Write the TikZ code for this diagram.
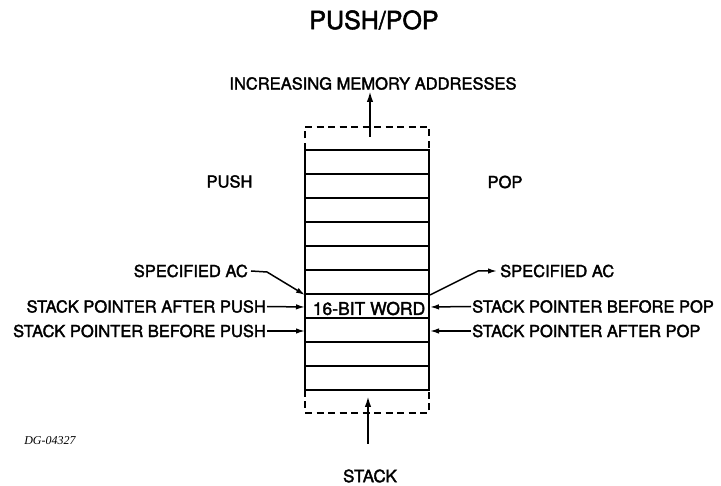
\documentclass[tikz,border=0pt]{standalone}
\usepackage{fontspec}
\setmainfont{TeX Gyre Heros}[FakeBold=2]
\newfontfamily\serifit{Liberation Serif}
\usetikzlibrary{arrows.meta}
\begin{document}
\begin{tikzpicture}[x=1pt,y=-1pt,
  lbl/.style={font=\fontsize{16.5}{18}\selectfont, inner sep=0pt},
  boxline/.style={line width=1.8pt},
  dashline/.style={line width=1.8pt, dash pattern=on 7pt off 4.5pt},
  arr/.style={line width=1.5pt, -{Latex[length=9pt,width=5.5pt]}},
  arrbig/.style={line width=2pt, -{Latex[length=11pt,width=6.5pt]}}]
\useasboundingbox (0,0) rectangle (721,486);
% title
\node[lbl, font=\fontsize{25}{28}\selectfont] (title) at (374,20) {PUSH/POP};
\node[lbl] (inc) at (373,83.5) {INCREASING MEMORY ADDRESSES};
\node[lbl] (push) at (229.5,181.5) {PUSH};
\node[lbl] (pop) at (505,182) {POP};
\node[lbl, font=\fontsize{17}{19}\selectfont] (stack) at (370,476) {STACK};
\node[inner sep=0pt, font=\serifit\itshape\fontsize{12}{14}\selectfont] (dg) at (50,441) {DG-04327};
% stack box
\coordinate (tl) at (305,150);
\coordinate (br) at (429,390);
\draw[boxline] (tl) rectangle (br);
\foreach \y in {174,198,222,246,270,294,318,342,366}
  \draw[boxline] (305,\y) -- (429,\y);
\draw[dashline] (305,150) -- (305,127) -- (429,127) -- (429,150);
\draw[dashline] (305,390) -- (305,413) -- (429,413) -- (429,390);
\node[lbl, font=\fontsize{17.5}{20}\selectfont] (word) at (369,308.5) {16-BIT WORD};
% vertical arrows
\coordinate (topstart) at (370,137);
\coordinate (topend) at (370,91);
\draw[arrbig] (topstart) -- (topend);
\coordinate (botstart) at (368,444);
\coordinate (botend) at (368,396);
\draw[arrbig] (botstart) -- (botend);
% left labels
\node[lbl, anchor=east] (sacl) at (248,271) {SPECIFIED AC};
\node[lbl, anchor=east] (spap) at (266,306.5) {STACK POINTER AFTER PUSH};
\node[lbl, anchor=east] (spbp) at (266,331) {STACK POINTER BEFORE PUSH};
\coordinate (lc) at (305,295);
\draw[arr] ([xshift=3pt]sacl.east) -- (267,272) -- (lc);
\draw[arr] ([xshift=1pt]spap.east) -- (305,307);
\draw[arr] ([xshift=1pt]spbp.east) -- (305,331);
% right labels
\node[lbl, anchor=west] (sacr) at (500,271) {SPECIFIED AC};
\node[lbl, anchor=west] (spbo) at (472,306.5) {STACK POINTER BEFORE POP};
\node[lbl, anchor=west] (spao) at (472,331) {STACK POINTER AFTER POP};
\coordinate (rc) at (430,295);
\draw[arr] (rc) -- (478,271) -- ([xshift=-3pt]sacr.west);
\draw[arr] ([xshift=-1pt]spbo.west) -- (430,307);
\draw[arr] ([xshift=-1pt]spao.west) -- (430,331);
\end{tikzpicture}
\end{document}
